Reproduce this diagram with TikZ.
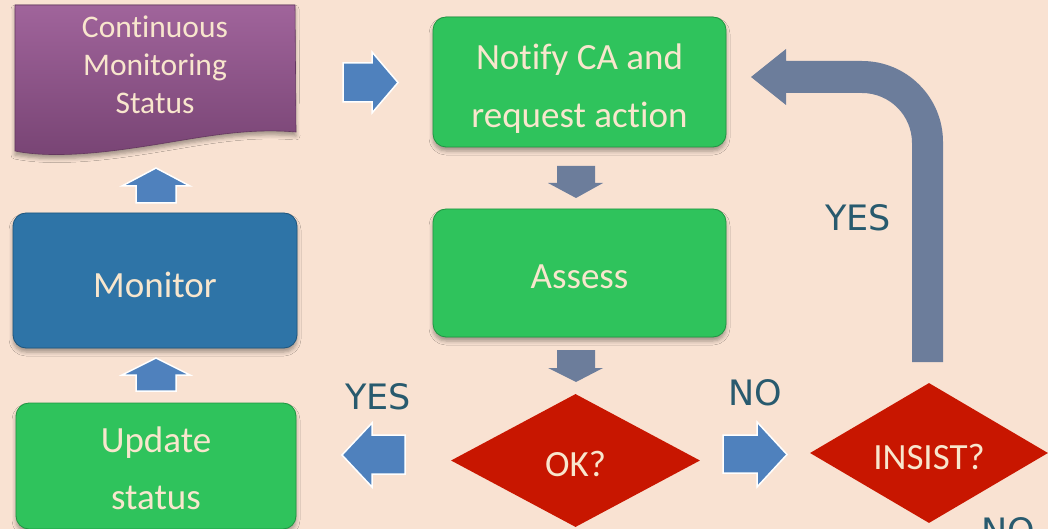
\documentclass[tikz,border=0pt]{standalone}
\usepackage{fontspec}
\setmainfont{Carlito}[Ligatures={NoCommon,NoContextual}]
\newfontfamily\labelfont{DejaVu Sans}
\usetikzlibrary{shapes.geometric,shadows.blur}

\definecolor{bgpeach}{RGB}{249,226,210}
\definecolor{boxgreen}{RGB}{47,195,92}
\definecolor{boxgreenedge}{RGB}{30,150,65}
\definecolor{boxblue}{RGB}{46,116,167}
\definecolor{boxblueedge}{RGB}{30,85,125}
\definecolor{doctop}{RGB}{160,100,155}
\definecolor{docbottom}{RGB}{120,68,116}
\definecolor{docedge}{RGB}{100,55,95}
\definecolor{arrowblue}{RGB}{79,129,189}
\definecolor{arrowgray}{RGB}{108,125,155}
\definecolor{decisionred}{RGB}{200,22,0}
\definecolor{labelteal}{RGB}{40,90,110}
\definecolor{cream}{RGB}{248,230,205}

\begin{document}
\begin{tikzpicture}[x=1pt,y=-1pt,
  softshadow/.style={blur shadow={shadow xshift=0pt, shadow yshift=-4pt,
      shadow blur radius=4pt, shadow opacity=35}},
  boxtext/.style={text=cream, align=center, font=\fontsize{37}{58}\selectfont},
  processbox/.style={rectangle, rounded corners=13pt, inner sep=0pt,
      fill=boxgreen, draw=boxgreenedge, line width=0.8pt, softshadow},
  monitorbox/.style={processbox, fill=boxblue, draw=boxblueedge},
  decision/.style={diamond, inner sep=0pt, fill=decisionred},
  answer/.style={text=labelteal, font=\labelfont\fontsize{35}{40}\selectfont},
  bluearrow/.style={fill=arrowblue, draw=white, line width=1.5pt, line join=miter},
  grayarrow/.style={fill=arrowgray}]

\clip (0,0) rectangle (1048,529);
\fill[bgpeach] (0,0) rectangle (1048,529);

% status document with wavy lower edge
\path[softshadow, top color=doctop, bottom color=docbottom, draw=docedge, line width=0.6pt]
  (15,5) -- (295,5) -- (296,132)
  .. controls (240,127) and (190,140) .. (133,148)
  .. controls (85,155) and (45,157) .. (15,151) -- cycle;
\node[boxtext, font=\fontsize{31.5}{38}\selectfont] (doc) at (155,65)
  {Continuous\\Monitoring\\Status};

% process boxes and their captions
\node[processbox, minimum width=293pt, minimum height=130pt] (notify) at (579.5,82) {};
\node[boxtext] (notify-text) at ([yshift=-7pt]notify.center) {Notify CA and\\request action};
\node[processbox, minimum width=293pt, minimum height=128pt] (assess) at (579.5,273) {};
\node[boxtext] (assess-text) at ([yshift=-4pt]assess.center) {Assess};
\node[monitorbox, minimum width=284pt, minimum height=135pt] (monitor) at (155,280.5) {};
\node[boxtext] (monitor-text) at ([yshift=-4pt]monitor.center) {Monitor};
\node[processbox, minimum width=280pt, minimum height=126pt] (update) at (156,466) {};
\node[boxtext, font=\fontsize{37}{57}\selectfont] (update-text) at ([yshift=-2pt]update.center)
  {Update\\status};

% decisions
\node[decision, minimum width=249pt, minimum height=133pt] (ok) at (575.5,460.5) {};
\node[boxtext] (ok-text) at ([yshift=-3pt]ok.center) {OK?};
\node[decision, minimum width=238pt, minimum height=140pt] (insist) at (929,453) {};
\node[boxtext] (insist-text) at ([yshift=-4pt]insist.center) {INSIST?};

% answer labels
\node[answer] (yesleft) at (378,397) {YES};
\node[answer] (noright) at (755,393) {NO};
\node[answer] (yesup) at (858,218) {YES};
\node[answer] (nodown) at (1008,531) {NO};

% block arrows
\path[bluearrow] (343,63) -- (372,63) -- (372,52) -- (398,82.5) -- (372,113)
  -- (372,102) -- (343,102) -- cycle;
\path[bluearrow] (405,435) -- (372,435) -- (372,423) -- (342,455) -- (372,487)
  -- (372,474) -- (405,474) -- cycle;
\path[bluearrow] (723,435) -- (757,435) -- (757,422) -- (787,454.5) -- (757,487)
  -- (757,473) -- (723,473) -- cycle;
\path[bluearrow] (136,203) -- (136,186) -- (122,186) -- (156,168) -- (190,186)
  -- (176,186) -- (176,203) -- cycle;
\path[bluearrow] (136,391) -- (136,375) -- (122,375) -- (156,358) -- (190,375)
  -- (176,375) -- (176,391) -- cycle;
\path[grayarrow] (557,166) -- (595,166) -- (595,183) -- (603,183) -- (576,198)
  -- (548,183) -- (557,183) -- cycle;
\path[grayarrow] (557,350) -- (595,350) -- (595,368) -- (603,368) -- (576,382)
  -- (548,368) -- (557,368) -- cycle;

% bent return arrow from INSIST? back to the notification step
\path[grayarrow] (912,362) -- (943,362) -- (943,142)
  arc[start angle=0, end angle=-90, radius=81] -- (786,61) -- (786,49)
  -- (751,77) -- (786,105) -- (786,93) -- (862,93)
  arc[start angle=-90, end angle=0, radius=50] -- cycle;
\end{tikzpicture}
\end{document}
